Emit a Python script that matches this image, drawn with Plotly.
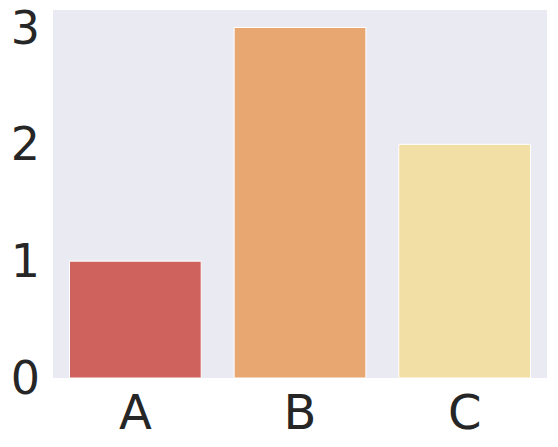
import plotly.graph_objects as go

# bar data
categories = ["A", "B", "C"]
values = [1, 3, 2]
colors = ["#d0625d", "#e8a770", "#f1dfa6"]

fig = go.Figure()
fig.add_trace(go.Bar(
    x=categories,
    y=values,
    marker=dict(color=colors, line=dict(color="white", width=1)),
    width=0.8,
))

# page body adds an 8px offset, so the figure is a bit smaller than the window
fig.update_layout(
    width=550,
    height=439,
    margin=dict(l=45, r=11, t=2, b=69),
    paper_bgcolor="white",
    plot_bgcolor="#eaeaf2",
    showlegend=False,
    font=dict(family="DejaVu Sans", size=46, color="#262626"),
)
fig.update_xaxes(
    range=[-0.5, 2.5],
    showgrid=False,
    zeroline=False,
    showline=False,
    ticks="",
    ticklabelstandoff=2,
    tickfont=dict(size=48),
    automargin=False,
)
fig.update_yaxes(
    range=[0, 3.15],
    tickvals=[0, 1, 2, 3],
    showgrid=False,
    zeroline=False,
    showline=False,
    ticks="",
    ticklabelstandoff=12,
    ticklabeloverflow="allow",
    automargin=False,
)

fig.write_html("out.html")
